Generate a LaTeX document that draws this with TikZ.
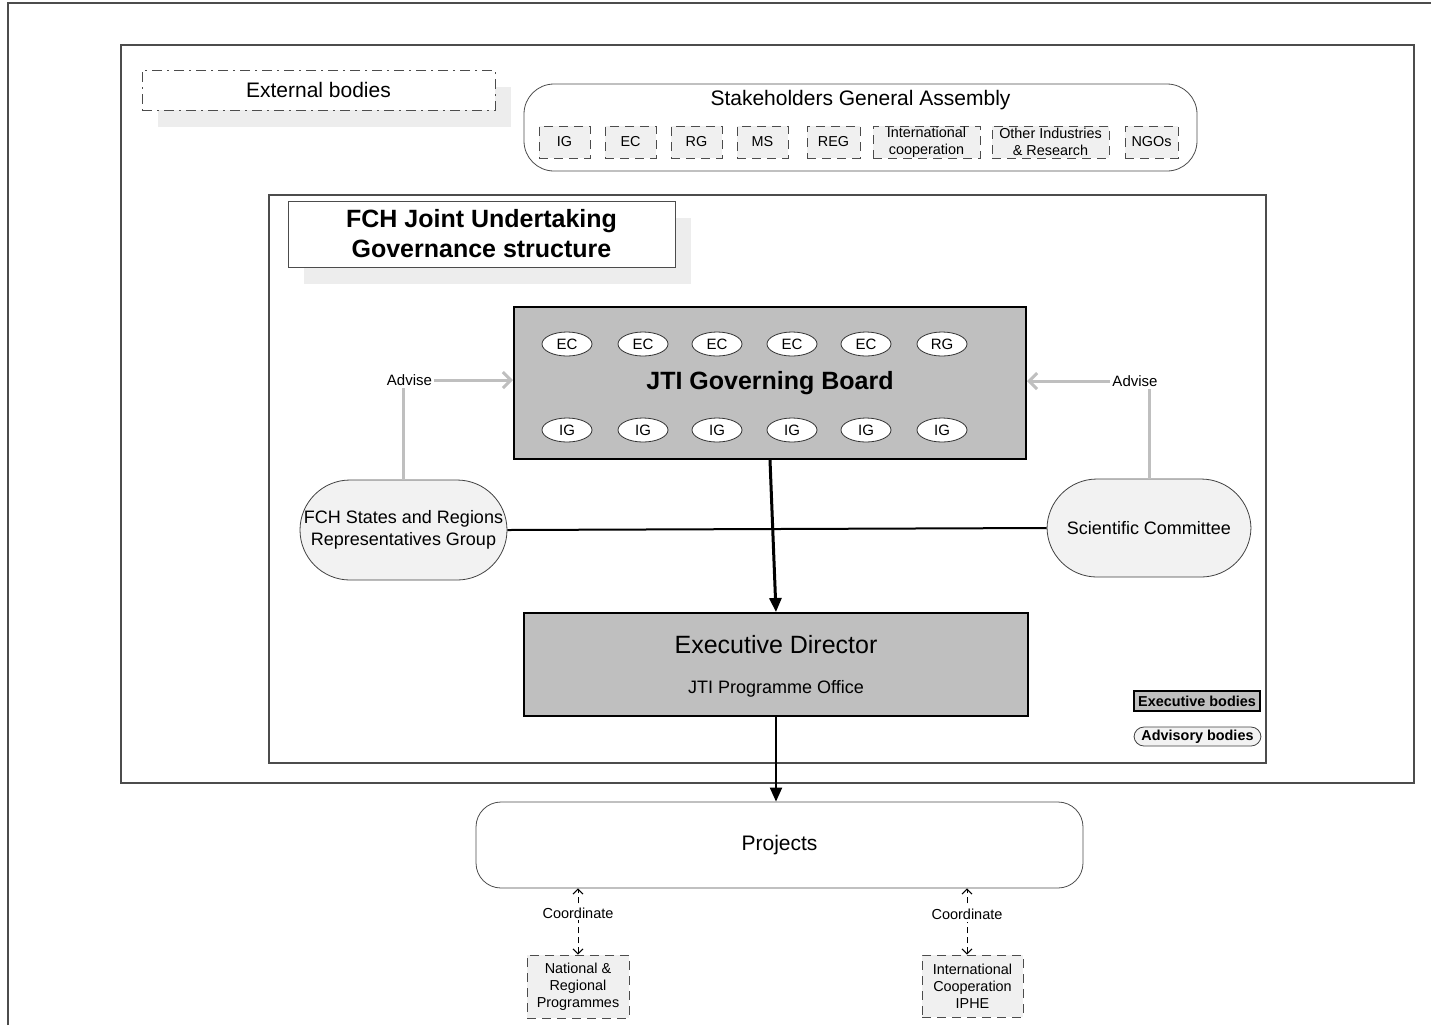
\documentclass[tikz,border=0pt]{standalone}
\usepackage{fontspec}
\setmainfont{Liberation Sans}
\usetikzlibrary{shapes.geometric,shadows,arrows.meta}

\begin{document}
\begin{tikzpicture}[x=0.5pt, y=-0.5pt,
        frame/.style={draw=black!70, line width=1.2pt},
        member/.style={draw=black!80, fill=white, ellipse, inner sep=0pt, minimum width=25pt, minimum height=12pt, font=\fontsize{7.5}{9}\selectfont},
        stake/.style={draw=black!70, dash pattern=on 4.5pt off 3pt, fill=black!6, inner sep=0pt, minimum height=16pt, align=center, font=\fontsize{7.2}{8.5}\selectfont},
        exec/.style={draw, line width=1pt, fill=black!25, inner sep=0pt},
        advisory/.style={draw=black!75, fill=black!5, rounded corners=25pt, inner sep=0pt, align=center, font=\fontsize{9}{11}\selectfont},
        advise/.style={draw=black!25, line width=1.5pt, -{Straight Barb[length=4pt, width=8pt]}},
        advlabel/.style={fill=white, inner sep=1pt, font=\fontsize{7.5}{9}\selectfont},
        flow/.style={-{Triangle[length=7pt, width=6pt]}},
        coord/.style={{Straight Barb[length=2.5pt, width=5pt]}-{Straight Barb[length=2.5pt, width=5pt]}, dash pattern=on 3pt off 2pt, line width=0.5pt},
        coordlabel/.style={fill=white, inner sep=1pt, font=\fontsize{7.25}{9}\selectfont},
        shade/.style={drop shadow={shadow xshift=8pt, shadow yshift=-8.5pt, fill=black!7, opacity=1}}]
        \useasboundingbox (0,0) rectangle (1431,1025);

        % frames
        \draw[frame] (8,1025) -- (8,3) -- (1431,3);
        \draw[frame] (121,45) rectangle (1414,783);
        \draw[frame] (269,195) rectangle (1266,763);

        % external bodies and stakeholders
        \node[shade, draw=black!70, fill=white, dash pattern=on 5pt off 2.5pt on 1pt off 2.5pt, inner sep=0pt,
              minimum width=176.5pt, minimum height=20pt, font=\fontsize{10.5}{12}\selectfont] (ext) at (318.5,90) {External bodies};
        \node[draw=black!70, rounded corners=15pt, inner sep=0pt, minimum width=336.5pt, minimum height=43.5pt] (sga) at (860.5,127.5) {};
        \node[font=\fontsize{10.5}{12}\selectfont] (sganame) at (860.5,100) {Stakeholders General Assembly};
        \node[stake, minimum width=25.5pt] (ig) at (564.5,142) {IG};
        \node[stake, minimum width=25.5pt] (ec) at (630.5,142) {EC};
        \node[stake, minimum width=25.5pt] (rg) at (696.5,142) {RG};
        \node[stake, minimum width=25.5pt] (ms) at (762.5,142) {MS};
        \node[stake, minimum width=26.5pt] (reg) at (833.5,142) {REG};
        \node[stake, minimum width=53.5pt] (intl) at (926.5,142) {International\\cooperation};
        \node[stake, minimum width=58.5pt] (other) at (1050.5,142) {Other Industries\\\& Research};
        \node[stake, minimum width=26.5pt] (ngo) at (1151.5,142) {NGOs};

        % title
        \node[shade, draw=black!70, fill=white, inner sep=0pt, minimum width=193.5pt, minimum height=33pt, align=center,
              font=\bfseries\fontsize{12.5}{15}\selectfont] (title) at (481.5,234) {FCH Joint Undertaking\\Governance structure};

        % governing board
        \node[exec, minimum width=256pt, minimum height=76pt, font=\bfseries\fontsize{12.5}{15}\selectfont] (board) at (770,383) {JTI Governing Board};
        \node[member] (ec1) at (567,344) {EC};
        \node[member] (ec2) at (643,344) {EC};
        \node[member] (ec3) at (717,344) {EC};
        \node[member] (ec4) at (792,344) {EC};
        \node[member] (ec5) at (866,344) {EC};
        \node[member] (rg1) at (942,344) {RG};
        \node[member] (ig1) at (567,430) {IG};
        \node[member] (ig2) at (643,430) {IG};
        \node[member] (ig3) at (717,430) {IG};
        \node[member] (ig4) at (792,430) {IG};
        \node[member] (ig5) at (866,430) {IG};
        \node[member] (ig6) at (942,430) {IG};

        % advisory bodies
        \node[advisory, minimum width=103.5pt, minimum height=50pt] (grp) at (403.5,530) {FCH States and Regions\\Representatives Group};
        \node[advisory, minimum width=102pt, minimum height=49pt] (sci) at (1149,528) {Scientific Committee};

        % executive director
        \node[exec, minimum width=252pt, minimum height=51.5pt] (ed) at (776,664.5) {};
        \node[font=\fontsize{12.5}{15}\selectfont] (edname) at (776,645) {Executive Director};
        \node[font=\fontsize{9}{11}\selectfont] (office) at (776,689) {JTI Programme Office};

        % legend
        \node[exec, line width=0.6pt, minimum width=63pt, minimum height=10pt, font=\bfseries\fontsize{7.2}{8.5}\selectfont] (legexe) at (1197,701) {Executive bodies};
        \node[advisory, rounded corners=5pt, minimum width=63.5pt, minimum height=9.5pt, font=\bfseries\fontsize{7.2}{8.5}\selectfont] (legadv) at (1197.5,736.5) {Advisory bodies};

        % projects
        \node[draw=black!70, rounded corners=12.5pt, inner sep=0pt, minimum width=303.5pt, minimum height=43pt,
              font=\fontsize{10.5}{12}\selectfont] (proj) at (779.5,845) {Projects};
        \node[stake, minimum width=51pt, minimum height=31.5pt] (nat) at (578,986.5) {National \&\\Regional\\Programmes};
        \node[stake, minimum width=50.5pt, minimum height=31pt] (iphe) at (972.5,986) {International\\Cooperation\\IPHE};

        % connectors
        \draw[advise] (grp.north) |- node[advlabel, xshift=3pt] {Advise} ([yshift=1.5pt]board.west);
        \draw[advise] (sci.north) |- node[advlabel, xshift=-7pt] {Advise} ([yshift=1pt]board.east);
        \draw[line width=1pt] (grp.east) -- (sci.west);
        \draw[flow, line width=1.5pt] (board.south) -- (ed.north);
        \draw[flow, line width=1pt] (ed.south) -- (ed.south |- proj.north);
        \draw[coord] (nat.north) -- node[coordlabel, pos=0.63] {Coordinate} (nat.north |- proj.south);
        \draw[coord] ([xshift=-2.75pt]iphe.north) -- node[coordlabel, pos=0.61] {Coordinate} ([xshift=-2.75pt]iphe.north |- proj.south);
\end{tikzpicture}
\end{document}
